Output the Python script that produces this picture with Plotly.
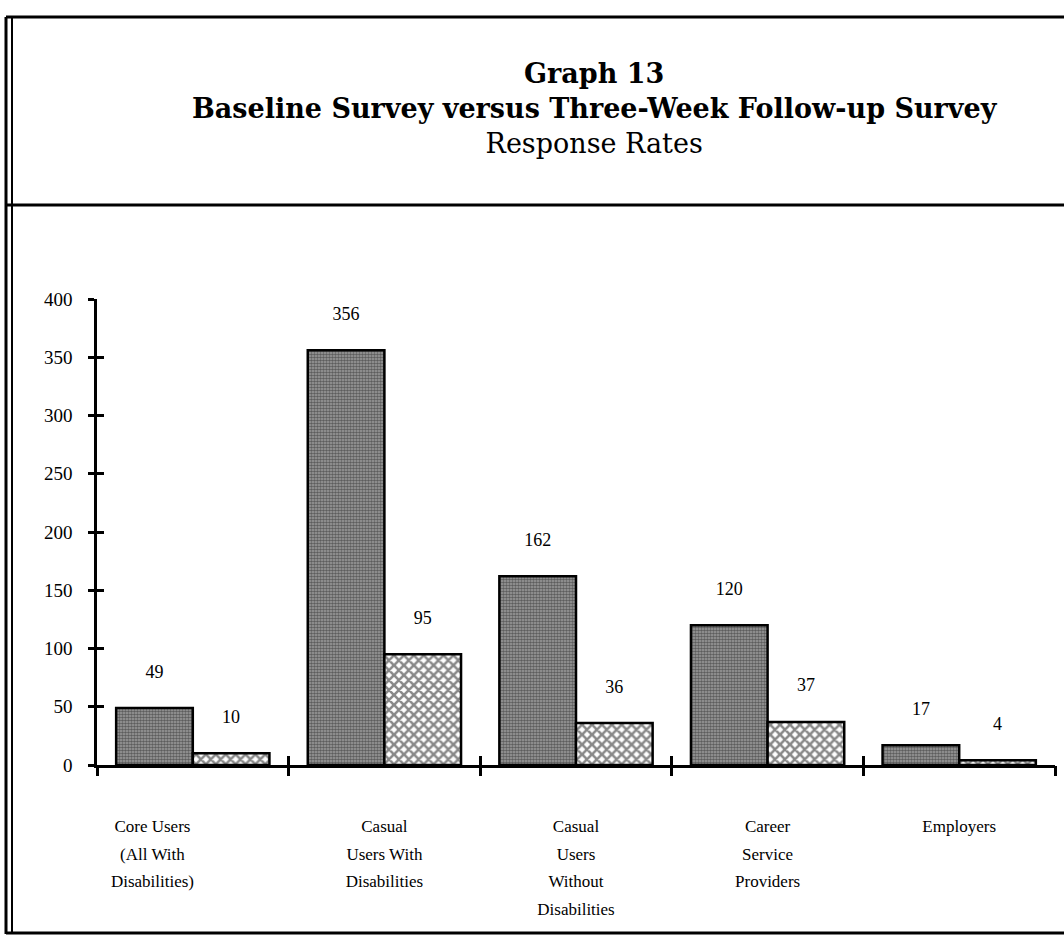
import plotly.graph_objects as go

categories = [
    "Core Users<br>(All With<br>Disabilities)",
    "Casual<br>Users With<br>Disabilities",
    "Casual<br>Users<br>Without<br>Disabilities",
    "Career<br>Service<br>Providers",
    "Employers",
]
baseline = [49, 356, 162, 120, 17]
followup = [10, 95, 36, 37, 4]
y_ticks = [0, 50, 100, 150, 200, 250, 300, 350, 400]

title_lines = [
    "<b>Graph 13</b>",
    "<b>Baseline Survey versus Three-Week Follow-up Survey</b>",
    "Response Rates",
]

W, H = 1064, 936
L, R, T, B = 97, 9, 299, 171
PW, PH = W - L - R, H - T - B

def px(x):
    return (x - L) / PW

def py(y):
    return (H - B - y) / PH

LBL_FONT = "Liberation Serif"

def wrap(lbl, size=17, pad=0):
    tail = "\u00a0" * pad
    return "<br>".join(f"<span style='font-size:{size}px'>{p}{tail}</span>" for p in lbl.split("<br>"))

# the first label sits left of its category centre in the original
label_pad = [19, 0, 0, 0, 0]

cat_ids = list(range(len(categories)))

fig = go.Figure()
fig.add_trace(go.Bar(
    x=cat_ids, y=baseline, name="Baseline Survey",
    text=[f"{v}<br>\u00a0" for v in baseline], textposition="outside",
    textfont=dict(family=LBL_FONT, size=18, color="black"),
    cliponaxis=False,
    marker=dict(color="#707070", line=dict(color="black", width=2.5),
                pattern=dict(shape=".", bgcolor="#a0a0a0", fgcolor="#1a1a1a",
                             size=3, solidity=0.6)),
))
fig.add_trace(go.Bar(
    x=cat_ids, y=followup, name="Three-Week Follow-up Survey",
    text=[f"{v}<br>\u00a0" for v in followup], textposition="outside",
    textfont=dict(family=LBL_FONT, size=18, color="black"),
    cliponaxis=False,
    marker=dict(color="white", line=dict(color="black", width=2.5),
                pattern=dict(shape="x", bgcolor="white", fgcolor="#111111",
                             size=7, solidity=0.6)),
))

fig.update_layout(
    width=W, height=H,
    margin=dict(l=L, r=R, t=T, b=B),
    paper_bgcolor="white", plot_bgcolor="white",
    showlegend=False,
    barmode="group", bargap=0.2, bargroupgap=0,
    xaxis=dict(
        range=[-0.5, len(categories) - 0.5],
        tickvals=cat_ids,
        ticktext=[wrap(c, pad=p) for c, p in zip(categories, label_pad)],
        tickfont=dict(family=LBL_FONT, size=21.5, color="black"),
        showline=True, linecolor="black", linewidth=2.5,
        ticks="", showgrid=False, zeroline=False,
        ticklabelstandoff=38,
    ),
    xaxis2=dict(
        overlaying="x", anchor="y", side="bottom",
        range=[-0.5, len(categories) - 0.5],
        tickvals=[i - 0.5 for i in range(len(categories) + 1)],
        ticks="outside", ticklen=10, tickwidth=2.5, tickcolor="black",
        showticklabels=False, showgrid=False, zeroline=False, showline=False,
    ),
    xaxis3=dict(
        overlaying="x", anchor="y", side="bottom",
        range=[-0.5, len(categories) - 0.5],
        tickvals=[i - 0.5 for i in range(len(categories) + 1)],
        ticks="inside", ticklen=9, tickwidth=2.5, tickcolor="black",
        showticklabels=False, showgrid=False, zeroline=False, showline=False,
    ),
    yaxis=dict(
        range=[0, 400], tickvals=y_ticks,
        tickfont=dict(family=LBL_FONT, size=19, color="black"),
        showline=True, linecolor="black", linewidth=2.5,
        ticks="outside", ticklen=6, tickwidth=2.5, tickcolor="black",
        showgrid=False, zeroline=False, ticklabelstandoff=12,
    ),
    yaxis2=dict(
        overlaying="y", anchor="x", side="left",
        range=[0, 400], tickvals=y_ticks,
        ticks="inside", ticklen=7, tickwidth=2.5, tickcolor="black",
        showticklabels=False, showgrid=False, zeroline=False, showline=False,
    ),
)

# invisible helper traces so the overlay tick axes are drawn
fig.add_trace(go.Scatter(x=[None], y=[None], xaxis="x2", yaxis="y", showlegend=False, hoverinfo="skip"))
fig.add_trace(go.Scatter(x=[None], y=[None], xaxis="x3", yaxis="y2", showlegend=False, hoverinfo="skip"))

fig.add_annotation(
    xref="paper", yref="paper", x=px(595), y=py(108),
    xanchor="center", yanchor="middle", showarrow=False, align="center",
    text="<br>".join(title_lines),
    font=dict(family="DejaVu Serif", size=27, color="black"),
)

line = dict(color="black", width=3)
shapes = [
    dict(type="line", xref="paper", yref="paper", x0=px(6), x1=px(1064), y0=py(17), y1=py(17), line=line),
    dict(type="line", xref="paper", yref="paper", x0=px(6), x1=px(1064), y0=py(205), y1=py(205), line=line),
    dict(type="line", xref="paper", yref="paper", x0=px(6), x1=px(1064), y0=py(933), y1=py(933), line=line),
    dict(type="line", xref="paper", yref="paper", x0=px(6), x1=px(6), y0=py(17), y1=py(934), line=line),
    dict(type="line", xref="paper", yref="paper", x0=px(12), x1=px(12), y0=py(17), y1=py(934), line=dict(color="black", width=2)),
]
fig.update_layout(shapes=shapes)

fig.write_html("out.html", post_script="document.body.style.margin='0';",
               config={"displayModeBar": False})
